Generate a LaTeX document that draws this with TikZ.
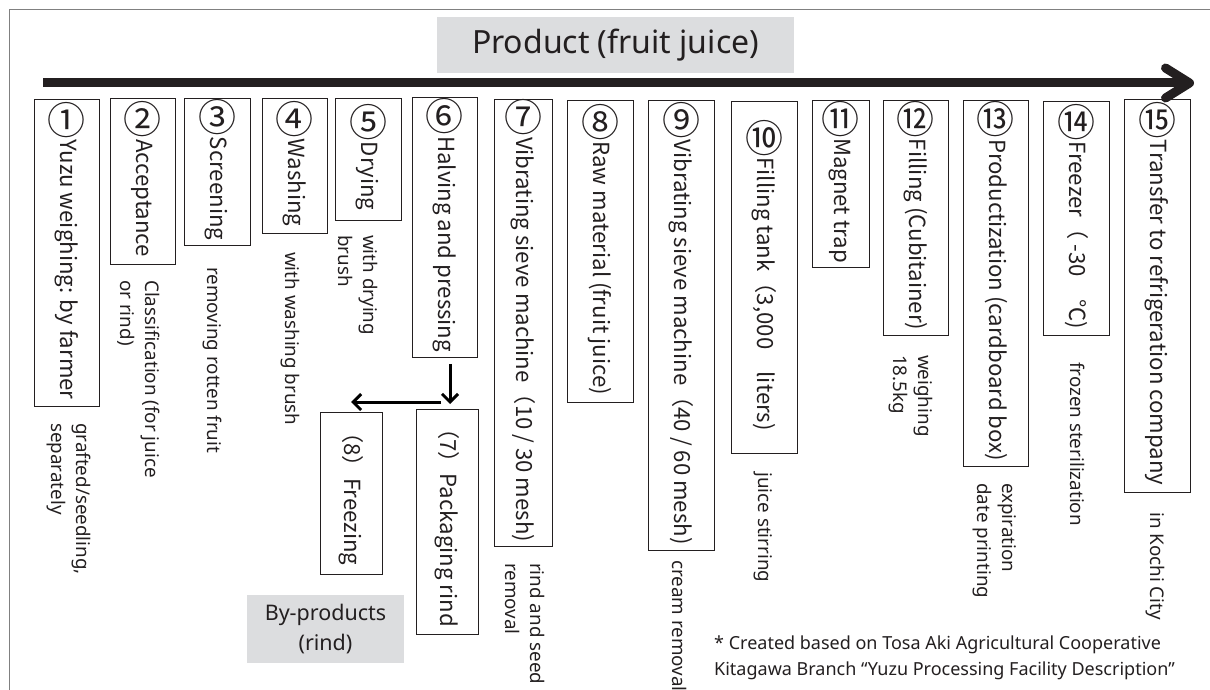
\documentclass[tikz,border=0pt]{standalone}
\usepackage{graphicx, xcolor}
\usepackage{fontspec}
\setmainfont{Noto Sans}
\newfontfamily\jp{Noto Sans CJK JP}
\usepackage{tikz}
\usetikzlibrary{calc,positioning,arrows.meta}
\definecolor{ink}{HTML}{231F20}
\definecolor{tagfill}{HTML}{DCDDDF}
\newcommand{\cn}[1]{\kern-4pt\raisebox{-8pt}{\rotatebox[origin=c]{90}{\fontsize{38}{38}\selectfont #1}}\kern2pt}

\begin{document}
\begin{tikzpicture}[x=1pt, y=-1pt, text=ink,
  note/.style={rotate=-90, anchor=north west, align=left, inner sep=0pt, font=\fontsize{18.8}{25}\selectfont},
  arr/.style={line width=3pt, -{Straight Barb[length=8pt,width=16pt]}}]
\tikzstyle{stepbox}=[draw=ink, line width=0.8pt, rotate=-90, anchor=west, inner sep=3pt, font={\jp\fontsize{22.2}{28}\selectfont}]
\tikzstyle{tag}=[fill=tagfill, align=center, inner sep=0pt]
\useasboundingbox (0,0) rectangle (1210,690);
\draw[gray, line width=1pt] (9,690) -- (9,10) -- (1210,10);
\node[tag, minimum width=357pt, minimum height=56pt, font=\fontsize{32}{38}\selectfont] (prod) at (615.5,45) {Product (fruit juice)};
\coordinate (flowstart) at (43,83);
\coordinate (flowend) at (1194,83);
\draw[ink, line width=9pt, -{Straight Barb[length=24pt,width=30pt,round]}] (flowstart) -- (flowend);
% process steps
\node[stepbox, minimum width=307pt, minimum height=65pt] (s1) at (66.5,99) {\cn{①}Yuzu weighing: by farmer};
\node[stepbox, minimum width=166pt, minimum height=65pt] (s2) at (142.5,98) {\cn{②}Acceptance};
\node[stepbox, minimum width=147pt, minimum height=66pt] (s3) at (217,98) {\cn{③}Screening};
\node[stepbox, minimum width=135pt, minimum height=65pt] (s4) at (294.5,98) {\cn{④}Washing};
\node[stepbox, minimum width=122pt, minimum height=66pt] (s5) at (368,98) {\cn{⑤}Drying};
\node[stepbox, minimum width=260pt, minimum height=65pt] (s6) at (444.5,97) {\cn{⑥}Halving and pressing};
\node[stepbox, minimum width=447pt, minimum height=58pt] (s7) at (523,99) {\cn{⑦}Vibrating sieve machine（10 / 30 mesh)};
\node[stepbox, minimum width=302pt, minimum height=66pt] (s8) at (600,100) {\cn{⑧}Raw material (fruit juice)};
\node[stepbox, minimum width=450pt, minimum height=66pt] (s9) at (681,100) {\cn{⑨}Vibrating sieve machine（40 / 60 mesh)};
\node[stepbox, minimum width=352pt, minimum height=66pt] (s10) at (764,101) {\cn{⑩}Filling tank（3,000　liters)};
\node[stepbox, minimum width=167pt, minimum height=57pt] (s11) at (840.5,100) {\cn{⑪}Magnet trap};
\node[stepbox, minimum width=235pt, minimum height=65pt] (s12) at (915.5,100) {\cn{⑫}Filling (Cubitainer)};
\node[stepbox, minimum width=366pt, minimum height=65pt] (s13) at (995.5,100) {\cn{⑬}Productization (cardboard box)};
\node[stepbox, minimum width=234pt, minimum height=66pt] (s14) at (1076,101) {\cn{⑭}Freezer（ -30　℃)};
\node[stepbox, minimum width=393pt, minimum height=66pt] (s15) at (1157,99) {\cn{⑮}Transfer to refrigeration company};
% by-products
\node[stepbox, minimum width=225pt, minimum height=62pt] (p7) at (447,409) {（7）Packaging rind};
\node[stepbox, minimum width=162pt, minimum height=62pt] (f8) at (351,412) {（8）Freezing};
\node[tag, minimum width=157pt, minimum height=68pt, font=\fontsize{21.5}{30}\selectfont] (byprod) at (325.5,629) {By-products\\(rind)};
\coordinate (split) at (450,402);
\draw[arr, shorten <=6pt, shorten >=5pt] (s6.east -| split) -- (p7.west -| split);
\draw[arr] ([xshift=-9pt]split) -- (split -| f8.west);
% notes
\node[note] (n1) at (91,423) {grafted/seedling,\\separately};
\node[note] (n2) at (160,280) {Classification (for juice\\or rind)};
\node[note] (n3) at (222,267) {removing rotten fruit};
\node[note] (n4) at (300,252) {with washing brush};
\node[note] (n5) at (378,235) {with drying\\brush};
\node[note] (n7) at (545,563) {rind and seed\\removal};
\node[note] (n9) at (687,560) {cream removal};
\node[note] (n10) at (773,472) {juice stirring};
\node[note] (n12) at (933,355) {weighing\\18.5kg};
\node[note] (n13) at (1017,483) {expiration\\date printing};
\node[note] (n14) at (1085,362) {frozen sterilization};
\node[note] (n15) at (1165,512) {in Kochi City};
\node[anchor=north west, align=left, inner sep=0pt, font=\fontsize{18}{26}\selectfont] (src) at (714,636) {* Created based on Tosa Aki Agricultural Cooperative\\Kitagawa Branch “Yuzu Processing Facility Description”};
\end{tikzpicture}
\end{document}
